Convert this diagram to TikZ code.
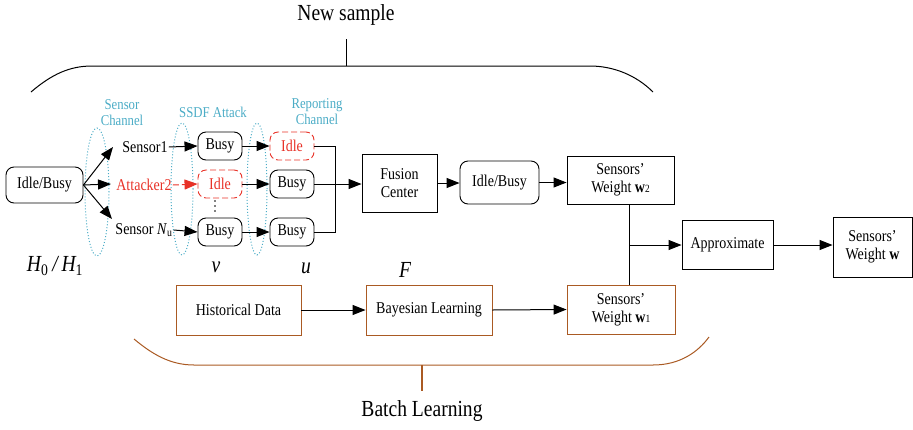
\documentclass[tikz,border=0pt]{standalone}
\usepackage{fontspec}
\setmainfont{Liberation Serif}[FakeStretch=0.85]
\usetikzlibrary{arrows.meta,shapes.geometric}
\definecolor{cblue}{RGB}{75,172,198}
\definecolor{cred}{RGB}{232,50,40}
\definecolor{cbrown}{RGB}{170,90,35}
\newcommand\myfs{\fontsize{16.5}{18}\selectfont}
\newcommand\mybig{\fontsize{23}{25}\selectfont}
\newcommand\mymath{\fontsize{23}{25}\selectfont\itshape}
\newcommand\mylab{\fontsize{15}{17}\selectfont}
\tikzset{
  box/.style={draw, line width=0.9pt, inner sep=0pt, align=center, font=\myfs},
  rbox/.style={box, rounded corners=8pt},
  redbox/.style={rbox, draw=cred, text=cred, dash pattern=on 6pt off 3pt},
  bbox/.style={box, draw=cbrown},
  arr/.style={-{Triangle[length=13pt,width=10pt]}, line width=1pt},
  ln/.style={line width=1pt},
  chan/.style={draw=cblue, dotted, line width=1pt, ellipse, inner sep=0pt},
  blab/.style={text=cblue, font=\mylab, align=center},
  txt/.style={font=\myfs, inner sep=1pt},
  dotmark/.style={circle, fill=black, inner sep=0pt, minimum size=1.8pt},
}
\begin{document}
\begin{tikzpicture}[x=1pt,y=-1pt]
\useasboundingbox (0,0) rectangle (913,429);

% braces
\node[font=\mybig] (ns) at (346,15) {New sample};
\coordinate (nt) at (346,39);
\coordinate (nb) at (346,66);
\draw[line width=1pt] (31,92) .. controls (52,74) and (70,66) .. (92,66) -- (590,66) .. controls (613,66) and (636,75) .. (653,92);
\draw[line width=1pt] (nt) -- (nb);

\node[font=\mybig] (bl) at (422,411) {Batch Learning};
\coordinate (bt) at (422,365);
\coordinate (bb) at (422,391);
\draw[line width=1pt, cbrown] (134,339) .. controls (152,354) and (170,365) .. (194,365) -- (653,365) .. controls (680,365) and (698,352) .. (709,337);
\draw[line width=1.2pt, cbrown] (bt) -- (bb);

% channel ellipses
\node[chan, minimum width=24pt, minimum height=128pt] (e1) at (97,192) {};
\node[chan, minimum width=22pt, minimum height=132pt] (e2) at (182,189) {};
\node[chan, minimum width=20pt, minimum height=132pt] (e3) at (257,189) {};
\node[blab] (l1) at (122,113) {Sensor\\[-1pt]Channel};
\node[blab] (l2) at (213,112) {SSDF Attack};
\node[blab] (l3) at (317,112) {Reporting\\[-1pt]Channel};

% source
\node[rbox, minimum width=77pt, minimum height=36pt] (src) at (44.5,185) {Idle/Busy};
\coordinate (c1) at (113,147);
\coordinate (c2) at (111,184);
\coordinate (c3) at (112,219);
\draw[arr] (src.east) -- (c1);
\draw[arr] (src.east) -- (c2);
\draw[arr] (src.east) -- (c3);

% sensors
\node[txt] (s1) at (145,147) {Sensor1};
\node[txt, text=cred] (s2) at (144,185) {Attacker2};
\node[txt] (s3) at (144,230) {Sensor \textit{N}\textsubscript{u}};

\node[rbox, minimum width=44pt, minimum height=28pt] (b1) at (220,146) {Busy};
\node[redbox, minimum width=44pt, minimum height=28pt] (i2) at (220,184) {Idle};
\node[rbox, minimum width=44pt, minimum height=28pt] (b3) at (220,232) {Busy};
\node[redbox, minimum width=44pt, minimum height=28pt] (i1) at (292,146) {Idle};
\node[rbox, minimum width=44pt, minimum height=28pt] (b2) at (292,184) {Busy};
\node[rbox, minimum width=44pt, minimum height=28pt] (b4) at (292,232) {Busy};
\node[dotmark] (d1) at (215,201) {};
\node[dotmark] (d2) at (215,206) {};
\node[dotmark] (d3) at (215,211) {};

\draw[arr] (s1.east) -- (b1.west);
\draw[arr, cred, dash pattern=on 6pt off 3pt] (s2.east) -- (i2.west);
\draw[arr] (s3.east) -- (b3.west);
\draw[arr] (b1.east) -- (i1.west);
\draw[arr] (i2.east) -- (b2.west);
\draw[arr] (b3.east) -- (b4.west);

\coordinate (bus3) at (335,232);
\draw[ln] (i1.east) -| (bus3) -- (b4.east);

% fusion chain
\node[box, minimum width=75pt, minimum height=58pt] (fc) at (399.5,183) {Fusion\\Center};
\node[rbox, minimum width=79pt, minimum height=43pt] (ib) at (499.5,182.5) {Idle/Busy};
\node[box, minimum width=107pt, minimum height=48pt] (w2) at (620.5,180) {Sensors’\\Weight \textbf{w}{\fontsize{11}{11}\selectfont 2}};
\draw[arr] (b2.east) -- (fc.west |- b2.east);
\draw[arr] (fc.east) -- (ib.west |- fc.east);
\draw[arr] (ib.east) -- (w2.west |- ib.east);

% batch
\node[bbox, minimum width=125pt, minimum height=50pt] (hist) at (238.5,310) {Historical Data};
\node[bbox, minimum width=126pt, minimum height=50pt] (bay) at (429,310) {Bayesian Learning};
\node[bbox, minimum width=108pt, minimum height=49pt] (w1) at (621,309.5) {Sensors’\\Weight \textbf{w}{\fontsize{11}{11}\selectfont 1}};
\draw[arr] (hist.east) -- (bay.west);
\draw[arr] (bay.east) -- (w1.west);

% approximate
\node[box, minimum width=91pt, minimum height=49pt] (ap) at (727.5,245) {Approximate};
\node[box, minimum width=79pt, minimum height=60pt] (wf) at (872.5,247) {Sensors’\\Weight \textbf{w}};
\coordinate (jt) at (629,204);
\coordinate (jb) at (629,285);
\coordinate (jm) at (629,245);
\draw[ln] (jt) -- (jb);
\draw[arr] (jm) -- (ap.west);
\draw[arr] (ap.east) -- (wf.west |- ap.east);

% math labels
\node[font=\mymath] (h) at (55,266) {H\textsubscript{\upshape 0}\,/\,H\textsubscript{\upshape 1}};
\node[font=\mymath] (v) at (216,267) {v};
\node[font=\mymath] (u) at (306,268) {u};
\node[font=\mymath] (f) at (405,270) {F};
\end{tikzpicture}
\end{document}
